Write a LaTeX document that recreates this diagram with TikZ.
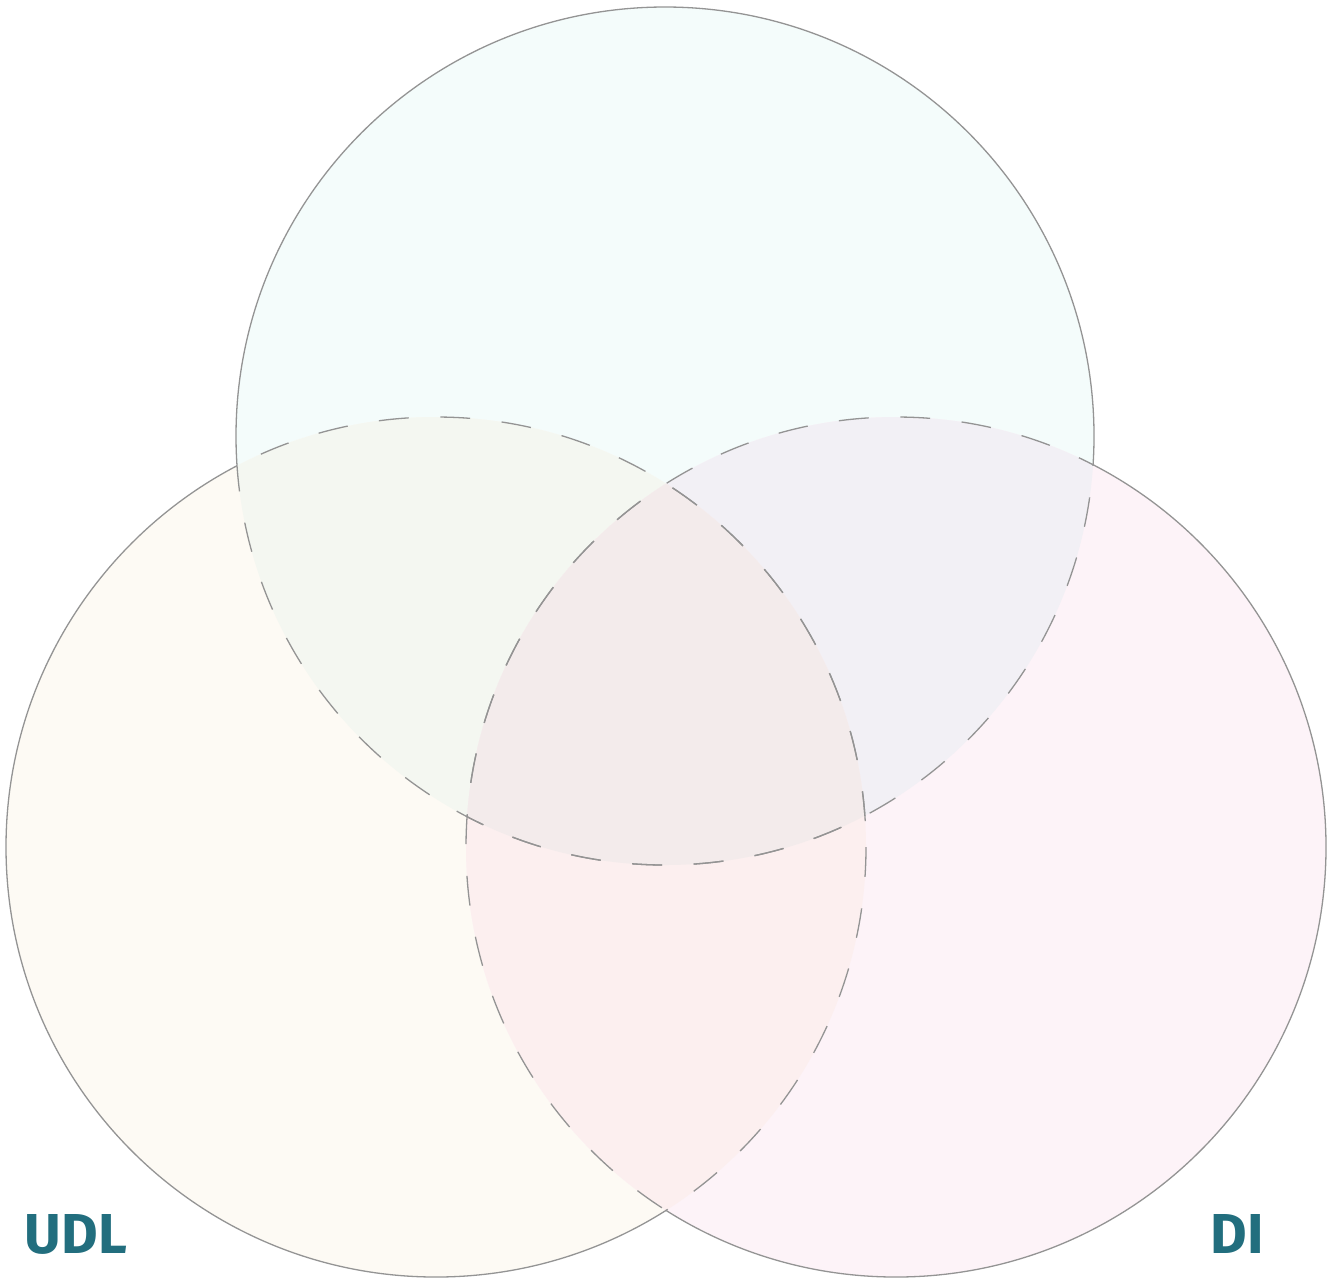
\documentclass[tikz,border=0pt]{standalone}
\usepackage{fontspec}
\setmainfont{Fira Sans}
\begin{document}
\begin{tikzpicture}[x=0.01cm,y=-0.01cm,
  outline/.style={draw=black!42, line width=0.37pt},
  dashline/.style={outline, dash pattern=on 8.5pt off 9pt},
  lbl/.style={text=labelc, font=\fontsize{16}{19}\selectfont\bfseries, inner sep=0pt}]
\definecolor{cT}{HTML}{F4FCFB}
\definecolor{cL}{HTML}{FDFAF4}
\definecolor{cR}{HTML}{FDF3F8}
\definecolor{cTL}{HTML}{F4F7F1}
\definecolor{cTR}{HTML}{F2F0F5}
\definecolor{cLR}{HTML}{FCEFEF}
\definecolor{cTLR}{HTML}{F3EBEB}
\definecolor{labelc}{HTML}{226E7E}
\useasboundingbox (0,0) rectangle (1334,1278);
\def\cT{(665,436) circle[radius=429]}
\def\cL{(436,847) circle[radius=430]}
\def\cR{(896,847) circle[radius=430]}
% fills
\fill[cT] \cT;
\fill[cL] \cL;
\fill[cR] \cR;
\begin{scope}\clip \cT; \fill[cTL] \cL; \end{scope}
\begin{scope}\clip \cT; \fill[cTR] \cR; \end{scope}
\begin{scope}\clip \cL; \fill[cLR] \cR; \end{scope}
\begin{scope}\clip \cT; \clip \cL; \fill[cTLR] \cR; \end{scope}
% solid outer arcs
\begin{scope}[even odd rule]
  \clip (-100,-100) rectangle (1500,1400) \cL;
  \clip (-100,-100) rectangle (1500,1400) \cR;
  \draw[outline] \cT;
\end{scope}
\begin{scope}[even odd rule]
  \clip (-100,-100) rectangle (1500,1400) \cT;
  \clip (-100,-100) rectangle (1500,1400) \cR;
  \draw[outline] \cL;
\end{scope}
\begin{scope}[even odd rule]
  \clip (-100,-100) rectangle (1500,1400) \cT;
  \clip (-100,-100) rectangle (1500,1400) \cL;
  \draw[outline] \cR;
\end{scope}
% dashed inner arcs
\begin{scope}\clip \cL; \draw[dashline] \cT; \end{scope}
\begin{scope}\clip \cR; \draw[dashline] \cT; \end{scope}
\begin{scope}\clip \cT; \draw[dashline] \cL; \end{scope}
\begin{scope}\clip \cR; \draw[dashline] \cL; \end{scope}
\begin{scope}\clip \cT; \draw[dashline] \cR; \end{scope}
\begin{scope}\clip \cL; \draw[dashline] \cR; \end{scope}
% labels
\node[lbl] (udl) at (76,1234) {UDL};
\node[lbl] (di) at (1237,1234) {DI};
\end{tikzpicture}
\end{document}
